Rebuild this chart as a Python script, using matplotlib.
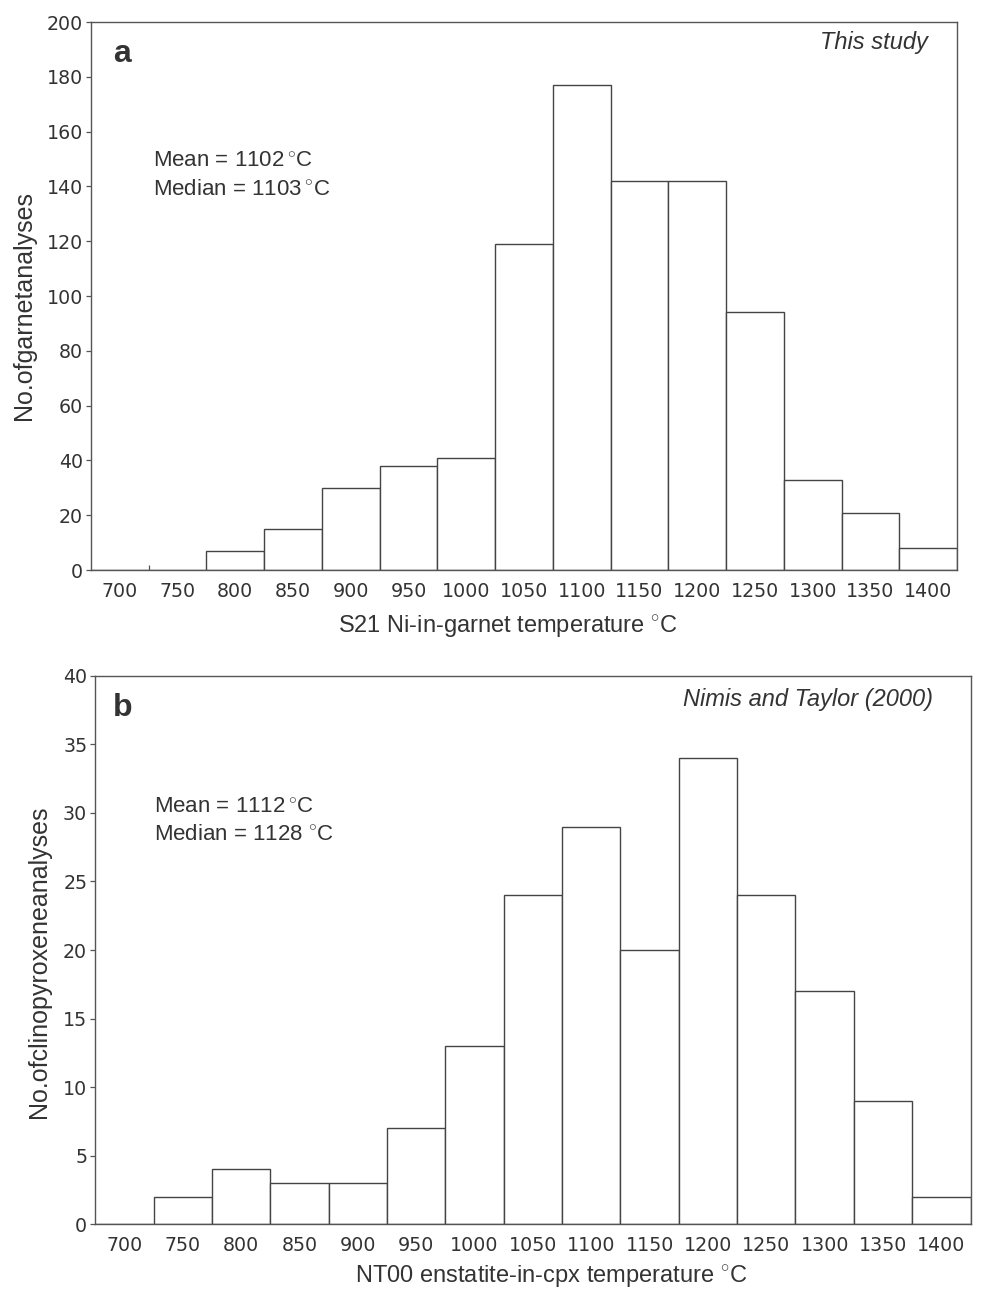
import numpy as np
import matplotlib
matplotlib.use("Agg")
import matplotlib.pyplot as plt

# donnees
temp_bins = [700, 750, 800, 850, 900, 950, 1000, 1050, 1100, 1150, 1200, 1250, 1300, 1350, 1400]
garnet_counts = [0, 0, 7, 15, 30, 38, 41, 119, 177, 142, 142, 94, 33, 21, 8]
cpx_counts = [0, 2, 4, 3, 3, 7, 13, 24, 29, 20, 34, 24, 17, 9, 2]

plt.rcParams['mathtext.fontset'] = 'custom'
plt.rcParams['mathtext.rm'] = 'Liberation Sans'

txt_col = '#333333'
edge_col = '#444444'
lbl_font = 'Liberation Sans'

fig = plt.figure(figsize=(9.81, 12.95), dpi=100)
ax1 = fig.add_axes([0.0928, 0.5598, 0.8827, 0.4232])
ax2 = fig.add_axes([0.0971, 0.0546, 0.8922, 0.4236])


def draw_panel(ax, counts, ymax, ystep, letter, source, mean_txt, median_txt,
               xlabel, ylabel, pos):
    ax.bar(temp_bins, counts, width=50, color='white', edgecolor=edge_col, linewidth=1.0)
    ax.set_xlim(675, 1425)
    ax.set_ylim(0, ymax)
    ax.set_xticks(temp_bins)
    ax.set_yticks(np.arange(0, ymax + 1, ystep))
    ax.tick_params(axis='x', length=0, pad=8.5, labelsize=13.7, labelcolor=txt_col)
    ax.tick_params(axis='y', length=3.6, width=0.9, color='#555555', pad=2.2,
                   labelsize=13.7, labelcolor=txt_col)
    for s in ax.spines.values():
        s.set_color('#555555')
        s.set_linewidth(1.0)

    ax.set_xlabel(xlabel, fontsize=17, family=lbl_font, color=txt_col, va='top')
    ax.xaxis.set_label_coords(pos['xl'][0], pos['xl'][1])
    ax.set_ylabel(ylabel, fontsize=18, family=lbl_font, color=txt_col, va='center')
    ax.yaxis.set_label_coords(pos['yl'][0], pos['yl'][1])

    ax.text(pos['letter'][0], pos['letter'][1], letter, transform=ax.transAxes,
            fontsize=23, fontweight='bold', family=lbl_font, color=txt_col, va='baseline')
    ax.text(pos['src'][0], pos['src'][1], source, transform=ax.transAxes,
            fontsize=17, style='italic', family=lbl_font, color=txt_col,
            ha='right', va='baseline')
    ax.text(pos['mean'][0], pos['mean'][1], mean_txt, transform=ax.transAxes,
            fontsize=16, family=lbl_font, color=txt_col, va='baseline')
    ax.text(pos['mean'][0], pos['median'], median_txt, transform=ax.transAxes,
            fontsize=16, family=lbl_font, color=txt_col, va='baseline')


draw_panel(ax1, garnet_counts, 200, 20, 'a', 'This study',
           r'Mean = 1102$\,^{\circ}$C', r'Median = 1103$\,^{\circ}$C',
           r'S21 Ni-in-garnet temperature $^{\circ}$C', 'No.ofgarnetanalyses',
           {'xl': (0.4815, -0.0796), 'yl': (-0.0774, 0.482), 'letter': (0.0254, 0.927),
            'src': (0.9665, 0.951), 'mean': (0.0716, 0.736), 'median': 0.684})

# petit trait a 725 sur le graphe a
ax1.set_xticks([725], minor=True)
ax1.tick_params(axis='x', which='minor', direction='in', length=3.6, width=0.9, color='#555555')

draw_panel(ax2, cpx_counts, 40, 5, 'b', 'Nimis and Taylor (2000)',
           r'Mean = 1112$\,^{\circ}$C', r'Median = 1128 $^{\circ}$C',
           r'NT00 enstatite-in-cpx temperature $^{\circ}$C', 'No.ofclinopyroxeneanalyses',
           {'xl': (0.521, -0.0716), 'yl': (-0.0643, 0.479), 'letter': (0.0202, 0.9266),
            'src': (0.957, 0.945), 'mean': (0.067, 0.75), 'median': 0.70})

fig.savefig('out.png', dpi=100)
